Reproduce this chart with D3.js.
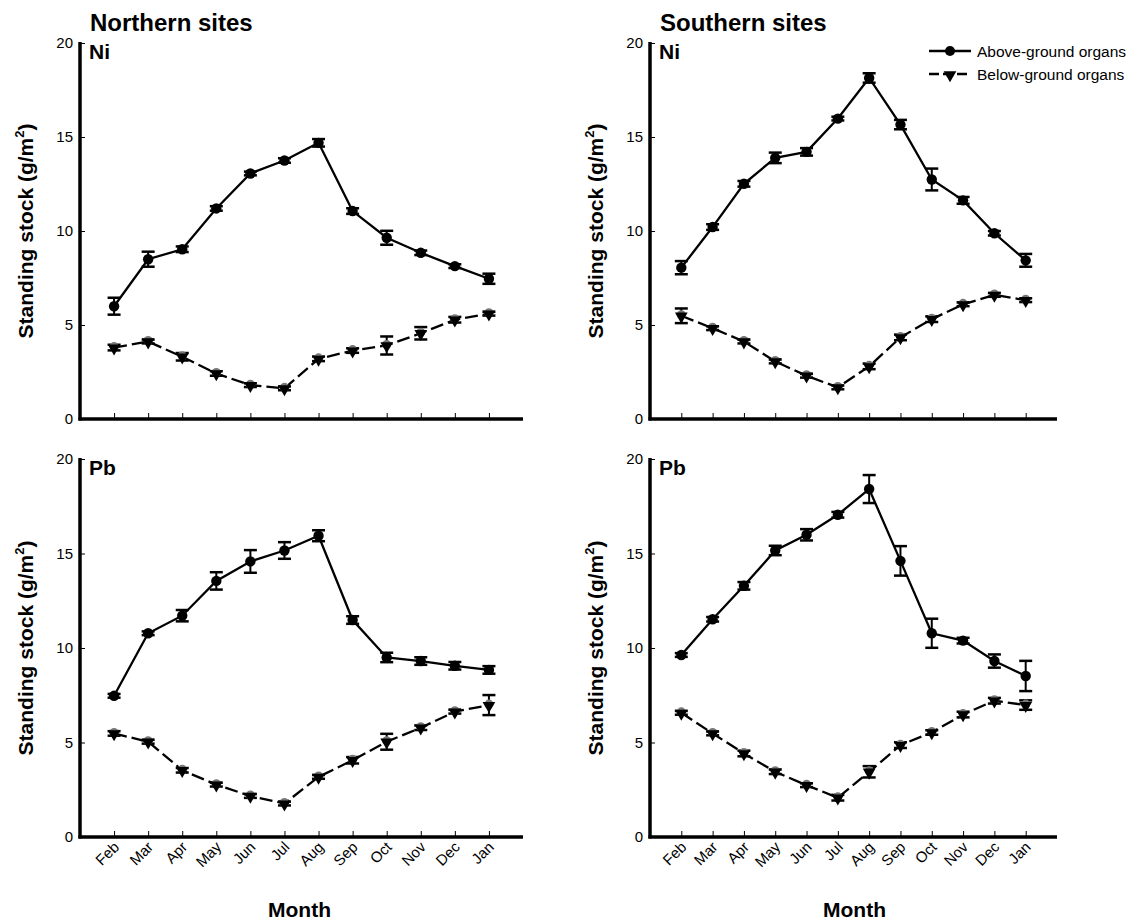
<!DOCTYPE html>
<html><head><meta charset="utf-8">
<script src="https://cdn.jsdelivr.net/npm/d3@7"></script>
<style>body{margin:0;background:#fff}svg{display:block}text{font-family:"Liberation Sans",Arial,sans-serif}</style>
</head><body>
<svg id="c" width="1138" height="920"></svg>
<script>
const months = ["Feb","Mar","Apr","May","Jun","Jul","Aug","Sep","Oct","Nov","Dec","Jan"];
const yTicks = [0,5,10,15,20];

// Northern Ni
const niNorthAbove    = [6.0, 8.5, 9.03, 11.2, 13.06, 13.75, 14.69, 11.06, 9.64, 8.84, 8.13, 7.46];
const niNorthAboveErr = [0.45,0.4,0.15,0.12,0.1,0.12,0.2,0.15,0.37,0.12,0.1,0.27];
const niNorthBelow    = [3.8, 4.12, 3.31, 2.42, 1.8, 1.63, 3.2, 3.64, 3.91, 4.56, 5.28, 5.6];
const niNorthBelowErr = [0.15,0.1,0.2,0.12,0.1,0.1,0.12,0.12,0.48,0.33,0.15,0.1];
// Southern Ni
const niSouthAbove    = [8.05, 10.21, 12.51, 13.89, 14.21, 15.98, 18.14, 15.66, 12.74, 11.63, 9.88, 8.44];
const niSouthAboveErr = [0.35,0.15,0.15,0.28,0.2,0.1,0.25,0.25,0.58,0.18,0.12,0.34];
const niSouthBelow    = [5.49, 4.83, 4.12, 3.06, 2.3, 1.68, 2.8, 4.34, 5.31, 6.1, 6.6, 6.32];
const niSouthBelowErr = [0.39,0.1,0.1,0.1,0.1,0.1,0.15,0.15,0.15,0.1,0.1,0.1];
// Northern Pb
const pbNorthAbove    = [7.47, 10.78, 11.71, 13.55, 14.58, 15.16, 15.94, 11.48, 9.5, 9.31, 9.06, 8.84];
const pbNorthAboveErr = [0.1,0.1,0.3,0.46,0.6,0.44,0.29,0.2,0.25,0.2,0.2,0.2];
const pbNorthBelow    = [5.48, 5.04, 3.53, 2.77, 2.17, 1.77, 3.18, 4.06, 5.04, 5.78, 6.63, 6.98];
const pbNorthBelowErr = [0.12,0.1,0.12,0.1,0.1,0.1,0.1,0.17,0.42,0.12,0.1,0.53];
// Southern Pb
const pbSouthAbove    = [9.63, 11.52, 13.29, 15.16, 15.99, 17.05, 18.41, 14.61, 10.78, 10.39, 9.31, 8.52];
const pbSouthAboveErr = [0.1,0.12,0.2,0.25,0.3,0.15,0.74,0.78,0.77,0.15,0.35,0.8];
const pbSouthBelow    = [6.57, 5.48, 4.42, 3.45, 2.74, 2.08, 3.45, 4.86, 5.53, 6.48, 7.21, 6.98];
const pbSouthBelowErr = [0.1,0.1,0.15,0.12,0.1,0.15,0.3,0.15,0.12,0.15,0.15,0.25];

const legendLabels = ["Above-ground organs","Below-ground organs"];

const svg = d3.select("#c");

const panels = [
  {x0:80, x1:523, y0:419, y1:43, title:"Northern sites", label:"Ni", above:niNorthAbove, aErr:niNorthAboveErr, below:niNorthBelow, bErr:niNorthBelowErr, months:false, legend:false},
  {x0:650, x1:1057, y0:419, y1:43, title:"Southern sites", label:"Ni", above:niSouthAbove, aErr:niSouthAboveErr, below:niSouthBelow, bErr:niSouthBelowErr, months:false, legend:true},
  {x0:80, x1:523, y0:837, y1:459, title:null, label:"Pb", above:pbNorthAbove, aErr:pbNorthAboveErr, below:pbNorthBelow, bErr:pbNorthBelowErr, months:true, legend:false},
  {x0:650, x1:1057, y0:837, y1:459, title:null, label:"Pb", above:pbSouthAbove, aErr:pbSouthAboveErr, below:pbSouthBelow, bErr:pbSouthBelowErr, months:true, legend:false}
];

const tri = d3.symbol().type(d3.symbolTriangle).size(70);

function drawMarker(g, kind, x, y){
  if(kind==="circle"){
    g.append("circle").attr("cx",x).attr("cy",y).attr("r",5.2).attr("fill","#000");
  } else {
    g.append("circle").attr("cx",x).attr("cy",y-1).attr("r",4.5).attr("fill","#777");
    g.append("path").attr("d",tri).attr("transform",`translate(${x},${y+0.5}) rotate(180)`).attr("fill","#000");
  }
}

panels.forEach(p=>{
  const g = svg.append("g");
  const x = d3.scalePoint().domain(months).range([p.x0,p.x1]).padding(1);
  const y = d3.scaleLinear().domain([0,20]).range([p.y0,p.y1]);

  const ya = g.append("g").attr("transform",`translate(${p.x0},0)`)
    .call(d3.axisRight(y).tickValues(yTicks).tickSize(5).tickFormat(""));
  ya.select(".domain").remove();
  ya.selectAll("line").attr("stroke","#000").attr("stroke-width",1);
  g.selectAll(".ylab").data(yTicks).enter().append("text")
    .attr("x",p.x0-7).attr("y",d=>y(d)).attr("dy","0.36em")
    .attr("text-anchor","end").attr("font-size",15).text(d=>d);

  const xa = g.append("g").attr("transform",`translate(0,${p.y0})`)
    .call(d3.axisTop(x).tickSize(6).tickFormat(""));
  xa.select(".domain").remove();
  xa.selectAll("line").attr("stroke","#000").attr("stroke-width",1);

  g.append("line").attr("x1",p.x0).attr("x2",p.x0).attr("y1",p.y1-1).attr("y2",p.y0+1.5).attr("stroke","#000").attr("stroke-width",3.5);
  g.append("line").attr("x1",p.x0-1.5).attr("x2",p.x1).attr("y1",p.y0).attr("y2",p.y0).attr("stroke","#000").attr("stroke-width",3.5);

  if(p.months){
    g.selectAll(".mlab").data(months).enter().append("text")
      .attr("transform",d=>`translate(${x(d)+6},${p.y0+11}) rotate(-45)`)
      .attr("text-anchor","end").attr("font-size",15).text(d=>d);
    g.append("text").attr("x",(p.x0+p.x1)/2 + (p.x0<300?-2:1)).attr("y",917)
      .attr("text-anchor","middle").attr("font-size",21).attr("font-weight","bold").text("Month");
  }

  const yl = g.append("text").attr("transform",`translate(${p.x0-47},${(p.y0+p.y1)/2}) rotate(-90)`)
    .attr("text-anchor","middle").attr("font-size",21).attr("font-weight","bold");
  yl.append("tspan").text("Standing stock (g/m");
  yl.append("tspan").attr("dy",-9).attr("font-size",13).text("2");
  yl.append("tspan").attr("dy",9).text(")");

  if(p.title){
    g.append("text").attr("x",p.x0+10).attr("y",p.y1-12).attr("font-size",24).attr("font-weight","bold").text(p.title);
  }
  g.append("text").attr("x",p.x0+9).attr("y",p.y1+16).attr("font-size",21).attr("font-weight","bold").text(p.label);

  const line = d3.line().x((d,i)=>x(months[i])).y(d=>y(d));

  g.append("path").datum(p.below).attr("d",line).attr("fill","none").attr("stroke","#000")
    .attr("stroke-width",2.3).attr("stroke-dasharray","13,5");
  g.append("path").datum(p.above).attr("d",line).attr("fill","none").attr("stroke","#000")
    .attr("stroke-width",2.3);

  function errBars(vals, errs){
    vals.forEach((v,i)=>{
      const cx = x(months[i]);
      const e = errs[i];
      g.append("line").attr("x1",cx).attr("x2",cx).attr("y1",y(v-e)).attr("y2",y(v+e)).attr("stroke","#000").attr("stroke-width",2);
      [v-e, v+e].forEach(t=>{
        g.append("line").attr("x1",cx-6.5).attr("x2",cx+6.5).attr("y1",y(t)).attr("y2",y(t)).attr("stroke","#000").attr("stroke-width",2.5);
      });
    });
  }
  errBars(p.below, p.bErr);
  errBars(p.above, p.aErr);
  p.below.forEach((v,i)=>drawMarker(g,"tri",x(months[i]),y(v)));
  p.above.forEach((v,i)=>drawMarker(g,"circle",x(months[i]),y(v)));

  if(p.legend){
    const lg = svg.append("g");
    legendLabels.forEach((lab,i)=>{
      const ly = 51 + i*23;
      lg.append("line").attr("x1",929).attr("x2",971).attr("y1",ly).attr("y2",ly).attr("stroke","#000").attr("stroke-width",2.3)
        .attr("stroke-dasharray", i===1 ? "10,4" : null);
      if(i===0) lg.append("circle").attr("cx",950).attr("cy",ly).attr("r",5).attr("fill","#000");
      else lg.append("path").attr("d",tri).attr("transform",`translate(950,${ly+1}) rotate(180)`).attr("fill","#000");
      lg.append("text").attr("x",977).attr("y",ly).attr("dy","0.36em").attr("font-size",15.5).text(lab);
    });
  }
});
</script>
</body></html>
